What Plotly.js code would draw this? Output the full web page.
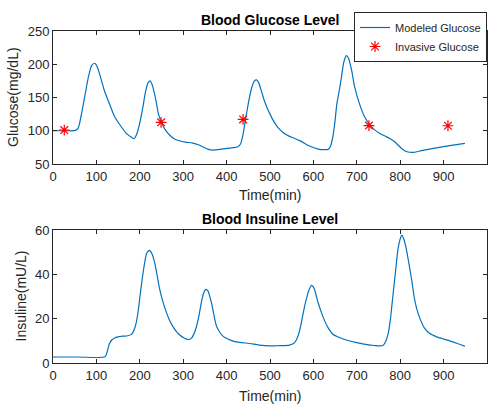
<!DOCTYPE html>
<html>
<head>
<meta charset="utf-8">
<script src="https://cdn.plot.ly/plotly-3.0.1.min.js"></script>
<style>html,body{margin:0;padding:0;background:#fff;}#chart{width:499px;height:405px;}</style>
</head>
<body>
<div id="chart"></div>
<script>
// Modeled glucose (time in min, mg/dL)
var glucoseTime = [0,30,52,58,64,73,82,89,96,102,108,119,131,142,154,169,180,187,193,200,207,213,219,224,230,237,243,249,258,268,280,291,305,322,335,345,358,369,385,400,415,426,432,438,446,452,458,464,469,474,480,487,493,500,507,518,530,545,553,572,591,611,625,634,639,644,649,654,660,665,670,676,681,688,695,707,718,730,742,753,765,776,788,799,810,818,830,845,868,914,949];
var glucoseValue = [100,100,100.5,104,120,151,182,198,201.5,196,184,159,139,121,109,96,90.5,88,95,112,135,158,172,175,166,146,125,114,102,94,87.5,85,83,81.5,79,76,72,71,72,73.5,74.5,76,80,95,126,148,165,175,176.5,172,160,145,135,125,116,105,97.5,91.5,89.5,84,77,72.5,71.5,72,76,88,110,140,162,182,203,213,209,191,166,139,121,109,101,96,92,88.5,83,76,70,68,67.5,69.5,72.5,77.5,81];

// Invasive glucose measurements
var invasiveTime = [26,249,438,728,910];
var invasiveValue = [101,112.7,117,107.8,107.5];

// Insulin (time in min, mU/L)
var insulinTime = [0,60,120,124,130,136,142,150,161,172,180,186,191,196,201,206,211,216,222,228,234,240,245,252,260,268,276,284,292,302,312,318,324,330,336,342,347,352,357,362,367,372,377,384,392,403,415,430,453,475,499,520,545,555,561,566,572,578,584,590,596,602,607,612,619,626,635,645,660,676,700,720,740,760,766,772,777,783,789,795,800,804,809,814,820,826,832,838,846,856,868,883,900,914,932,949];
var insulinValue = [2.7,2.7,2.8,4.5,8.7,10.5,11.3,11.8,12.1,12.3,12.8,14.5,17.5,23,31,38.5,45,49.5,50.8,49.3,45.5,39.5,34,28.5,23.5,19.5,16.5,14.3,12.6,11.3,10.6,11,12.8,16,21,27.5,31.5,33.2,32.5,29.5,25.5,20.5,16.5,14,12,10.8,9.9,9.3,8.8,8.1,7.7,7.8,8.1,8.9,10.5,13,18,24,29,33,35,33.5,30,26.5,22.5,19,15.5,13,11.5,10.4,9.2,8.4,7.9,7.9,9.5,13,19,30,41,51.5,56,57.7,55.5,51.5,45,38,30,24.5,19.8,15.7,13.3,11.9,10.8,10,8.8,7.5];

var xTicks = [0,100,200,300,400,500,600,700,800,900,1000];
var glucoseTicks = [50,100,150,200,250];
var insulinTicks = [0,20,40,60];

var FONT = 'Liberation Sans, Arial, sans-serif';
var AX = '#262626';
var BLUE = '#0072BD';

var traces = [
  {x: glucoseTime, y: glucoseValue, type: 'scatter', mode: 'lines', name: 'Modeled Glucose',
   line: {color: BLUE, width: 1.2, shape: 'spline', smoothing: 0.7}, xaxis: 'x', yaxis: 'y'},
  {x: invasiveTime, y: invasiveValue, type: 'scatter', mode: 'markers', name: 'Invasive Glucose',
   marker: {symbol: 'asterisk-open', size: 9, color: '#FF0000', line: {color: '#FF0000', width: 1.2}},
   xaxis: 'x', yaxis: 'y'},
  {x: insulinTime, y: insulinValue, type: 'scatter', mode: 'lines', name: 'Insulin',
   line: {color: BLUE, width: 1.2, shape: 'spline', smoothing: 0.7}, xaxis: 'x2', yaxis: 'y2', showlegend: false}
];

function axisBase() {
  return {
    showgrid: false, zeroline: false, showline: true, linecolor: AX, linewidth: 1,
    mirror: 'ticks', ticks: 'inside', ticklen: 4, tickwidth: 1, tickcolor: AX,
    tickfont: {family: FONT, size: 13, color: AX}, fixedrange: true
  };
}

var xd = [53/499, 487/499];
var layout = {
  width: 499, height: 405,
  margin: {l: 0, r: 0, t: 0, b: 0, pad: 0},
  paper_bgcolor: '#fff', plot_bgcolor: '#fff',
  font: {family: FONT, color: AX},
  xaxis: Object.assign(axisBase(), {domain: xd, range: [0, 1000], tickvals: xTicks, anchor: 'y'}),
  yaxis: Object.assign(axisBase(), {domain: [(405-164)/405, (405-31)/405], range: [50, 250], tickvals: glucoseTicks, anchor: 'x'}),
  xaxis2: Object.assign(axisBase(), {domain: xd, range: [0, 1000], tickvals: xTicks, anchor: 'y2'}),
  yaxis2: Object.assign(axisBase(), {domain: [(405-363)/405, (405-230)/405], range: [0, 60], tickvals: insulinTicks, anchor: 'x2'}),
  showlegend: true,
  legend: {x: 487/499, xanchor: 'right', y: 1 - 12/405, yanchor: 'top',
           bgcolor: '#fff', bordercolor: AX, borderwidth: 1,
           font: {family: FONT, size: 11, color: AX}, tracegroupgap: 0},
  annotations: [
    {text: '<b>Blood Glucose Level</b>', xref: 'paper', yref: 'paper', x: 270/499, y: 1 - 20/405,
     xanchor: 'center', yanchor: 'middle', showarrow: false, font: {family: FONT, size: 14, color: '#000'}},
    {text: '<b>Blood Insuline Level</b>', xref: 'paper', yref: 'paper', x: 270/499, y: 1 - 219/405,
     xanchor: 'center', yanchor: 'middle', showarrow: false, font: {family: FONT, size: 14, color: '#000'}},
    {text: 'Time(min)', xref: 'paper', yref: 'paper', x: 270/499, y: 1 - 195/405,
     xanchor: 'center', yanchor: 'middle', showarrow: false, font: {family: FONT, size: 14, color: AX}},
    {text: 'Time(min)', xref: 'paper', yref: 'paper', x: 270/499, y: 1 - 396/405,
     xanchor: 'center', yanchor: 'middle', showarrow: false, font: {family: FONT, size: 14, color: AX}},
    {text: 'Glucose(mg/dL)', xref: 'paper', yref: 'paper', x: 13.5/499, y: 1 - 97.5/405, textangle: -90,
     xanchor: 'center', yanchor: 'middle', showarrow: false, font: {family: FONT, size: 14, color: AX}},
    {text: 'Insuline(mU/L)', xref: 'paper', yref: 'paper', x: 20/499, y: 1 - 296.5/405, textangle: -90,
     xanchor: 'center', yanchor: 'middle', showarrow: false, font: {family: FONT, size: 14, color: AX}}
  ]
};

Plotly.newPlot('chart', traces, layout, {displayModeBar: false, staticPlot: true});
</script>
</body>
</html>
